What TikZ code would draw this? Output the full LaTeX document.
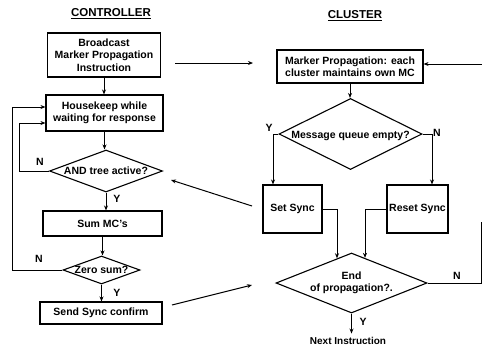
\documentclass[tikz,border=0pt]{standalone}
\usepackage{fontspec}
\setmainfont{Liberation Sans}
\usetikzlibrary{shapes.geometric,arrows.meta}
\begin{document}
\begin{tikzpicture}[x=1pt,y=-1pt,
  every node/.style={font=\bfseries\fontsize{10.5}{12.5}\selectfont},
  box/.style={draw,line width=1.1pt,inner sep=0pt,align=center},
  dia/.style={draw,diamond,line width=1.1pt,inner sep=0pt},
  lbl/.style={inner sep=0pt,align=center},
  ttl/.style={font=\bfseries\fontsize{11.5}{13}\selectfont},
  conn/.style={line width=1pt,-{Stealth[length=5pt,width=4pt]}},
  plain/.style={line width=1pt}]
\useasboundingbox (0,0) rectangle (482,349);
% titles
\node[ttl] (tc) at (111,14) {\underline{CONTROLLER}};
\node[ttl] (tcl) at (355,16) {\underline{CLUSTER}};
% controller
\node[box,minimum width=113pt,minimum height=44pt] (B) at (104,55) {Broadcast\\Marker Propagation\\Instruction};
\node[box,minimum width=117pt,minimum height=36pt] (H) at (104.5,113) {Housekeep while\\waiting for response};
\node[dia,minimum width=113pt,minimum height=42pt] (A) at (106,171) {};
\node[lbl] (At) at (A) {AND tree active?};
\node[box,minimum width=119pt,minimum height=25pt] (S) at (102.5,223.5) {Sum MC's};
\node[dia,minimum width=77pt,minimum height=28pt] (Z) at (101.5,270) {};
\node[lbl] (Zt) at (Z) {Zero sum?};
\node[box,minimum width=122pt,minimum height=22pt] (SC) at (101,313) {Send Sync confirm};
\draw[conn] (B.south) -- (B.south |- H.north);
\draw[conn] (H.south) -- (H.south |- A.north);
\draw[conn] (A.south) -- (A.south |- S.north);
\draw[conn] (S.south) -- (S.south |- Z.north);
\draw[conn] (Z.south) -- (Z.south |- SC.north);
\draw[conn] (A.west) -- ++(-29,0) |- ([yshift=-10pt]H.west);
\draw[conn] (Z.west) -- ++(-50,0) |- ([yshift=6pt]H.west);
\node (n1) at (40,162) {N};
\node (n2) at (39,259) {N};
\node (y1) at (117,199) {Y};
\node (y2) at (117,293) {Y};
% cross arrows
\coordinate (c1) at (175,63);
\coordinate (c2) at (253,63);
\coordinate (c3) at (252,206);
\coordinate (c4) at (171,180);
\coordinate (c5) at (172,305);
\coordinate (c6) at (252,285);
\draw[conn] (c1) -- (c2);
\draw[conn] (c3) -- (c4);
\draw[conn] (c5) -- (c6);
% cluster
\node[box,minimum width=146pt,minimum height=33pt] (M) at (350,66.5) {Marker Propagation: each\\cluster maintains own MC};
\node[dia,minimum width=143pt,minimum height=71pt] (Q) at (350.5,134) {};
\node[lbl] (Qt) at ([yshift=-2pt]Q.center) {Message queue empty?};
\node[box,minimum width=59pt,minimum height=48pt] (SS) at (292.5,209) {Set Sync};
\node[box,minimum width=61pt,minimum height=48pt] (RS) at (417.5,209) {Reset Sync};
\node[dia,minimum width=151pt,minimum height=60pt] (E) at (351.5,283) {};
\node[lbl] (Et) at (E) {End\\of propagation?.};
\node[font=\bfseries\fontsize{10}{12}\selectfont] (NI) at (348,341) {Next Instruction};
\coordinate (r1) at (482,64);
\draw[conn] (r1) -- (M.east |- r1);
\draw[conn] (M.south) -- (M.south |- Q.north);
\draw[conn] (Q.west) -| ([xshift=-19.5pt]SS.north);
\draw[conn] (Q.east) -| ([xshift=14.5pt]RS.north);
\draw[conn] (SS.east) -| ([xshift=-14.5pt,yshift=-5.8pt]E.north);
\draw[conn] (RS.west) -| ([xshift=13.5pt,yshift=-5.4pt]E.north);
\draw[plain] (E.east) -- ++(54,0) -- ++(0,-61);
\draw[conn] (E.south) -- ++(0,20);
\node (y3) at (269,128) {Y};
\node (n3) at (437,133) {N};
\node (n4) at (457,276) {N};
\node (y4) at (363,322) {Y};
\end{tikzpicture}
\end{document}
